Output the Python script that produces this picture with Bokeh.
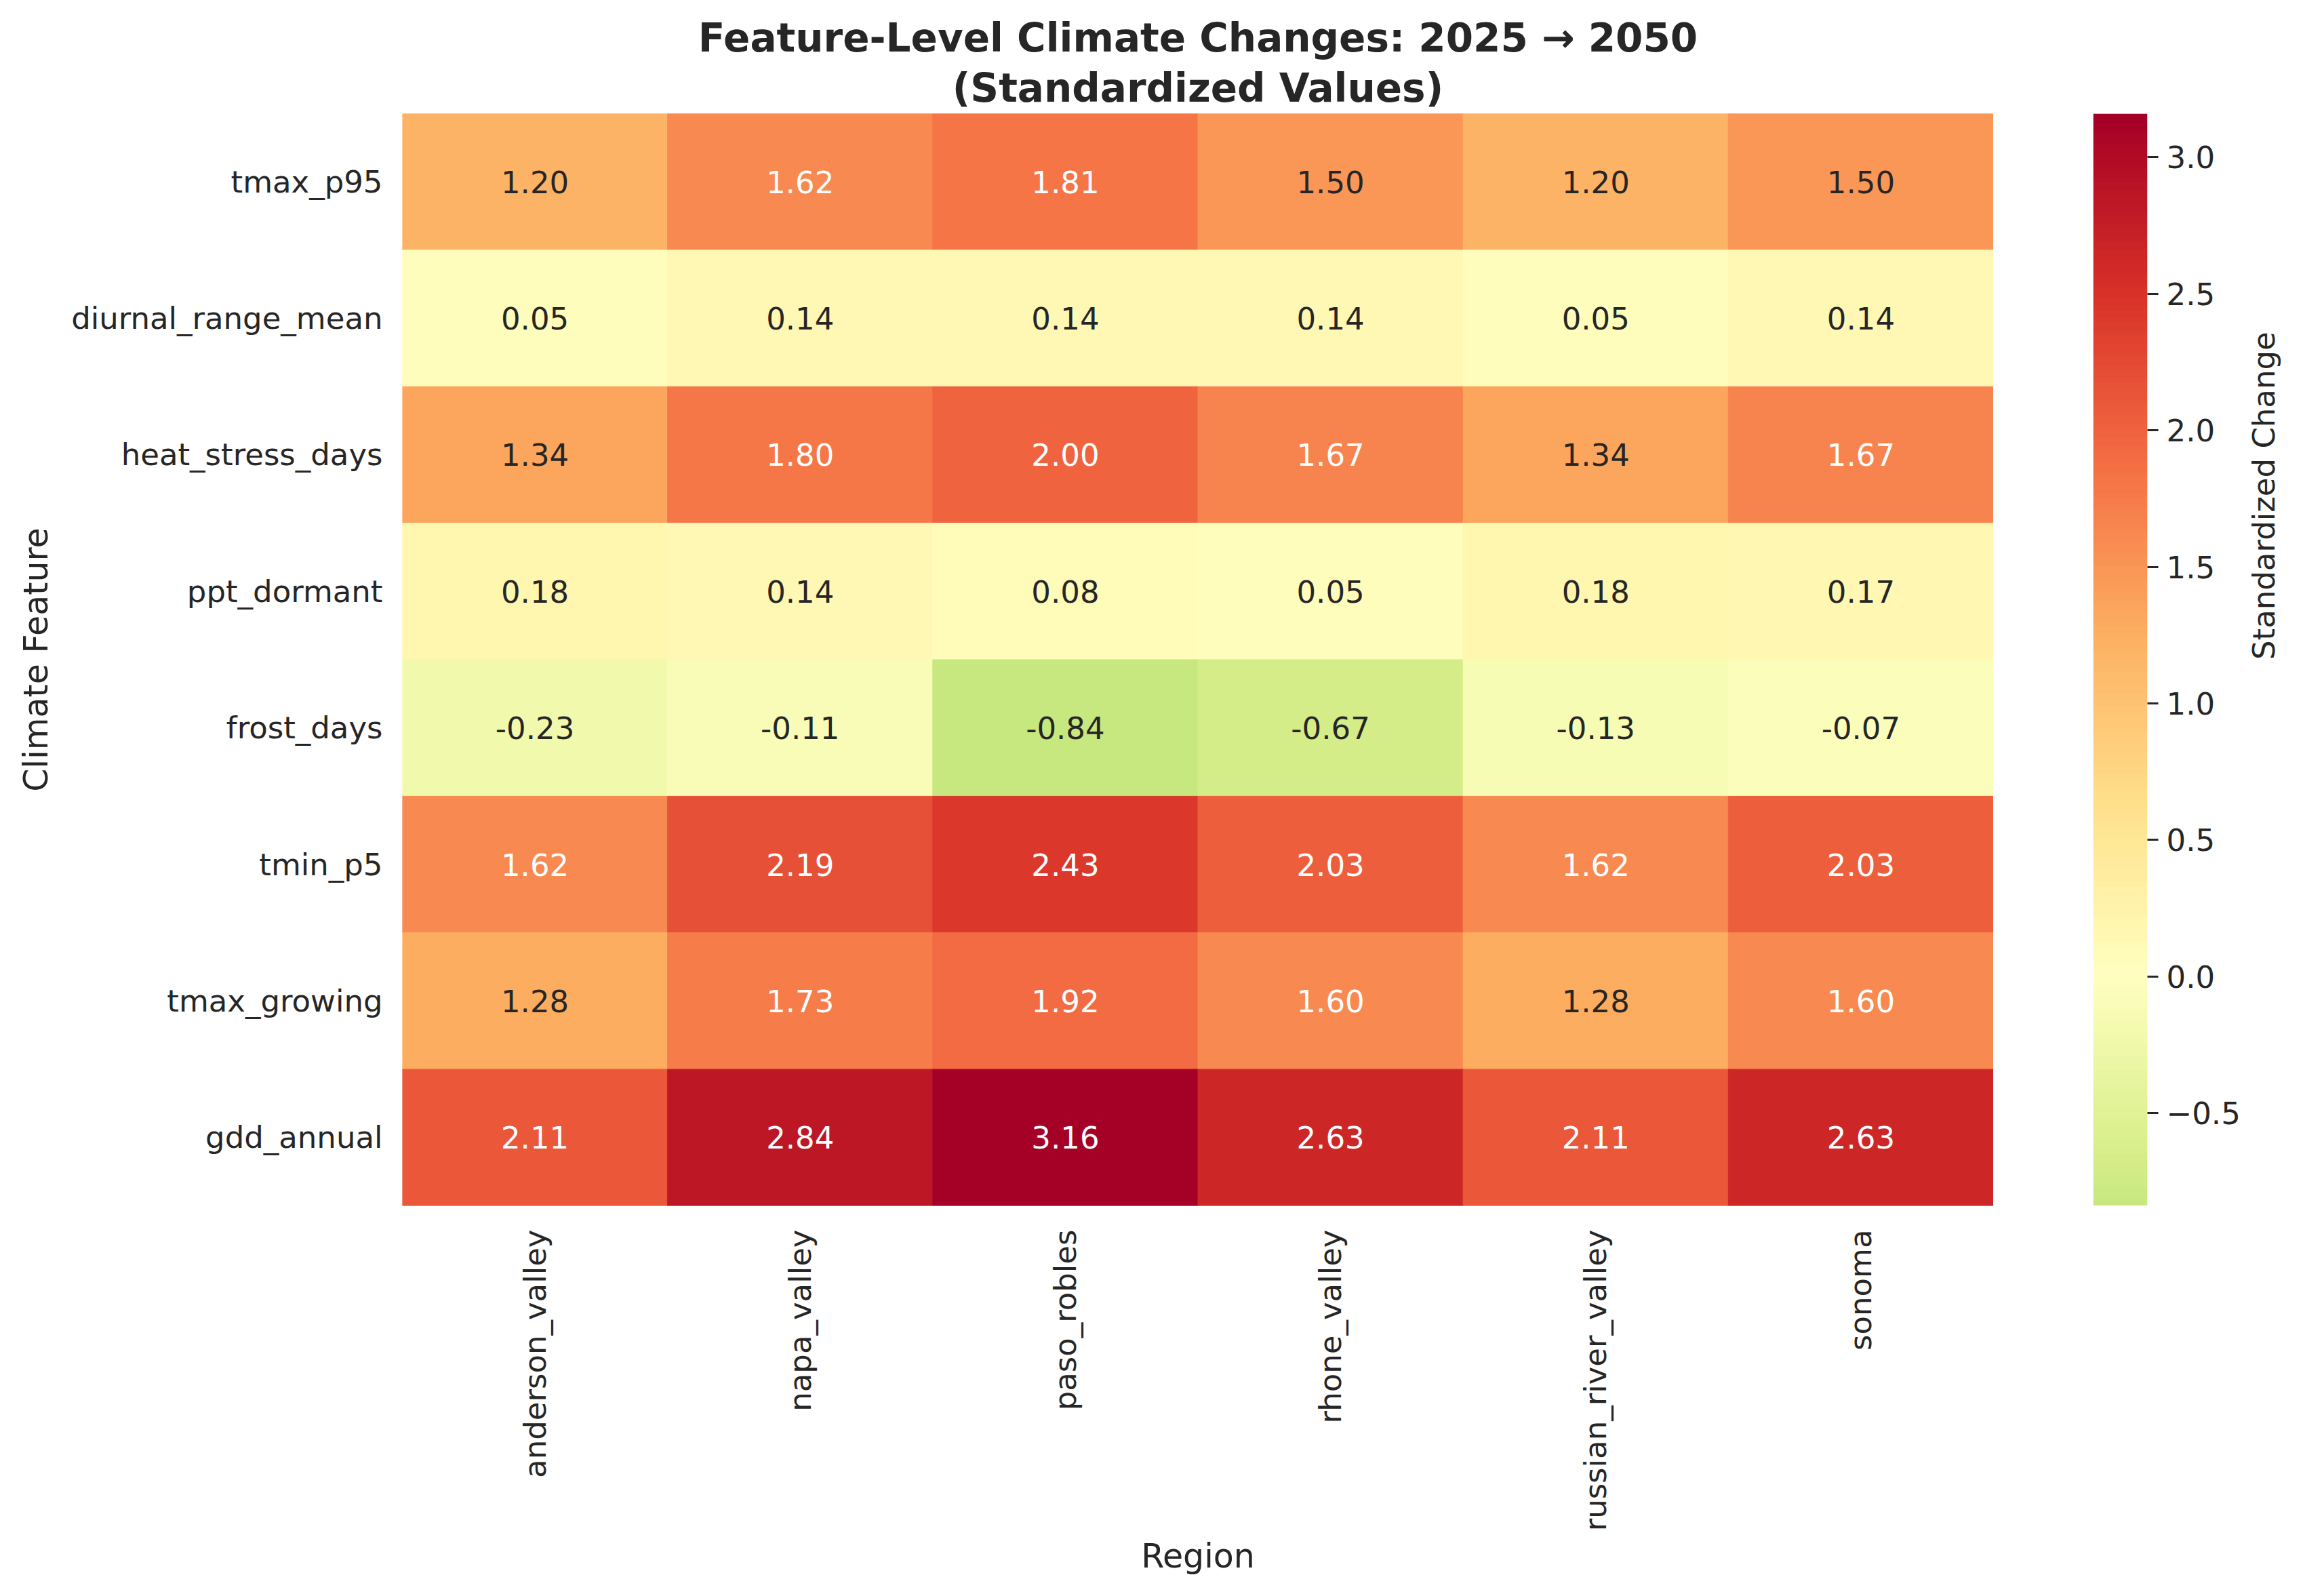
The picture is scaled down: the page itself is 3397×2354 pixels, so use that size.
import math
import numpy as np
from bokeh.plotting import figure
from bokeh.models import (ColumnDataSource, LinearColorMapper, FixedTicker, Title,
                          Range1d, FactorRange)
from bokeh.layouts import row
from bokeh.transform import transform
from bokeh.embed import file_html
from bokeh.resources import INLINE
from bokeh.core.properties import value

# ---------------- data ----------------
regions = ["anderson_valley", "napa_valley", "paso_robles", "rhone_valley",
           "russian_river_valley", "sonoma"]
features = ["tmax_p95", "diurnal_range_mean", "heat_stress_days", "ppt_dormant",
            "frost_days", "tmin_p5", "tmax_growing", "gdd_annual"]

tmax_p95 = [1.20, 1.62, 1.81, 1.50, 1.20, 1.50]
diurnal_range_mean = [0.05, 0.14, 0.14, 0.14, 0.05, 0.14]
heat_stress_days = [1.34, 1.80, 2.00, 1.67, 1.34, 1.67]
ppt_dormant = [0.18, 0.14, 0.08, 0.05, 0.18, 0.17]
frost_days = [-0.23, -0.11, -0.84, -0.67, -0.13, -0.07]
tmin_p5 = [1.62, 2.19, 2.43, 2.03, 1.62, 2.03]
tmax_growing = [1.28, 1.73, 1.92, 1.60, 1.28, 1.60]
gdd_annual = [2.11, 2.84, 3.16, 2.63, 2.11, 2.63]

feature_rows = [tmax_p95, diurnal_range_mean, heat_stress_days, ppt_dormant,
                frost_days, tmin_p5, tmax_growing, gdd_annual]

cbar_ticks = [-0.5, 0.0, 0.5, 1.0, 1.5, 2.0, 2.5, 3.0]

TITLE_1 = "Feature-Level Climate Changes: 2025 \u2192 2050"
TITLE_2 = "(Standardized Values)"
X_LABEL = "Region"
Y_LABEL = "Climate Feature"
CBAR_LABEL = "Standardized Change"

# ---------------- colormap (RdYlGn reversed, centred at 0) ----------------
RDYLGN_R = ["#006837", "#1a9850", "#66bd63", "#a6d96a", "#d9ef8b", "#ffffbf",
            "#fee08b", "#fdae61", "#f46d43", "#d73027", "#a50026"]


def hex2rgb(h):
    h = h.lstrip("#")
    return [int(h[i:i + 2], 16) / 255.0 for i in (0, 2, 4)]


ctrl = np.array([hex2rgb(h) for h in RDYLGN_R])
pos = np.linspace(0, 1, len(RDYLGN_R))
lut_x = np.linspace(0, 1, 256)
lut = np.stack([np.interp(lut_x, pos, ctrl[:, k]) for k in range(3)], axis=1)

vals = np.array(feature_rows, dtype=float)
vmin, vmax = float(vals.min()), float(vals.max())
center = 0.0
vrange = max(vmax - center, center - vmin)
cmin = 0.5 + (vmin - center) / (2 * vrange)
cmax = 0.5 + (vmax - center) / (2 * vrange)
cc = np.linspace(cmin, cmax, 256)
pal_rgb = lut[np.clip((cc * 256).astype(int), 0, 255)]
palette = ["#%02x%02x%02x" % tuple(int(round(c * 255)) for c in rgb) for rgb in pal_rgb]

mapper = LinearColorMapper(palette=palette, low=vmin, high=vmax)


def rel_lum(rgb):
    c = np.where(rgb <= 0.03928, rgb / 12.92, ((rgb + 0.055) / 1.055) ** 2.4)
    return 0.2126 * c[0] + 0.7152 * c[1] + 0.0722 * c[2]


xs, ys, vs, labels, tcolors = [], [], [], [], []
for feat, rowvals in zip(features, feature_rows):
    for reg, v in zip(regions, rowvals):
        i = int((v - vmin) / (vmax - vmin) * 256)
        i = min(max(i, 0), 255)
        lum = rel_lum(pal_rgb[i])
        xs.append(reg)
        ys.append(feat)
        vs.append(v)
        labels.append(f"{v:.2f}")
        tcolors.append("#262626" if lum > 0.408 else "#ffffff")

src = ColumnDataSource(dict(region=xs, feature=ys, value=vs, label=labels, tcolor=tcolors))

DARK = "#262626"
FONT = "DejaVu Sans"

# ---------------- heatmap figure ----------------
p = figure(x_range=FactorRange(*regions), y_range=FactorRange(*reversed(features)),
           frame_width=2347, frame_height=1611,
           min_border_left=593, min_border_top=167, min_border_right=0, min_border_bottom=0,
           toolbar_location=None, output_backend="svg", title=TITLE_1)
p.title.align = "center"
p.title.text_font = FONT
p.title.text_font_size = "58px"
p.title.text_font_style = "bold"
p.title.text_color = DARK
p.title.standoff = 0
t2 = Title(text=TITLE_2, align="center", text_font=FONT, text_font_size="58px",
           text_font_style="bold", text_color=DARK, standoff=8)
p.add_layout(t2, "above")

p.rect(x="region", y="feature", width=1, height=1, source=src,
       fill_color=transform("value", mapper), line_color=transform("value", mapper),
       line_width=1)
p.text(x="region", y="feature", text="label", text_color="tcolor", source=src,
       text_align="center", text_baseline="middle",
       text_font=value(FONT), text_font_size="45px")

p.grid.visible = False
p.outline_line_color = None
for ax in (p.xaxis[0], p.yaxis[0]):
    ax.axis_line_color = None
    ax.major_tick_line_color = None
    ax.minor_tick_line_color = None
    ax.major_tick_out = 0
    ax.major_tick_in = 0
    ax.major_label_text_font = FONT
    ax.major_label_text_font_size = "45px"
    ax.major_label_text_color = DARK
    ax.axis_label_text_font = FONT
    ax.axis_label_text_font_size = "49px"
    ax.axis_label_text_font_style = "normal"
    ax.axis_label_text_color = DARK
p.xaxis.axis_label = X_LABEL
p.yaxis.axis_label = Y_LABEL
p.xaxis.major_label_orientation = math.pi / 2
p.xaxis.major_label_standoff = 35
p.yaxis.major_label_standoff = 29
p.xaxis.axis_label_standoff = 6
p.yaxis.axis_label_standoff = 20

# ---------------- colorbar figure ----------------
cb = figure(x_range=Range1d(0, 1), y_range=Range1d(vmin, vmax),
            frame_width=80, frame_height=1611,
            min_border_left=147, min_border_top=167, min_border_right=0, min_border_bottom=0,
            y_axis_location="right", toolbar_location=None, output_backend="svg")
grad = np.linspace(vmin, vmax, 512).reshape(512, 1)
cb.image(image=[grad], x=0, y=vmin, dw=1, dh=vmax - vmin, color_mapper=mapper)
cb.xaxis.visible = False
cb.grid.visible = False
cb.outline_line_color = None
ya = cb.yaxis[0]
ya.ticker = FixedTicker(ticks=cbar_ticks)
ya.major_label_overrides = {t: f"{t:.1f}".replace("-", "\u2212") for t in cbar_ticks}
ya.axis_line_color = None
ya.minor_tick_line_color = None
ya.major_tick_out = 16
ya.major_tick_in = 0
ya.major_tick_line_width = 3
ya.major_tick_line_color = DARK
ya.major_label_standoff = 12
ya.major_label_text_font = FONT
ya.major_label_text_font_size = "45px"
ya.major_label_text_color = DARK
ya.axis_label = CBAR_LABEL
ya.axis_label_text_font = FONT
ya.axis_label_text_font_size = "45px"
ya.axis_label_text_font_style = "normal"
ya.axis_label_text_color = DARK
ya.axis_label_standoff = 32
ya.axis_label_orientation = math.pi / 2

layout = row(p, cb)
open("out.html", "w").write(file_html(layout, INLINE))
